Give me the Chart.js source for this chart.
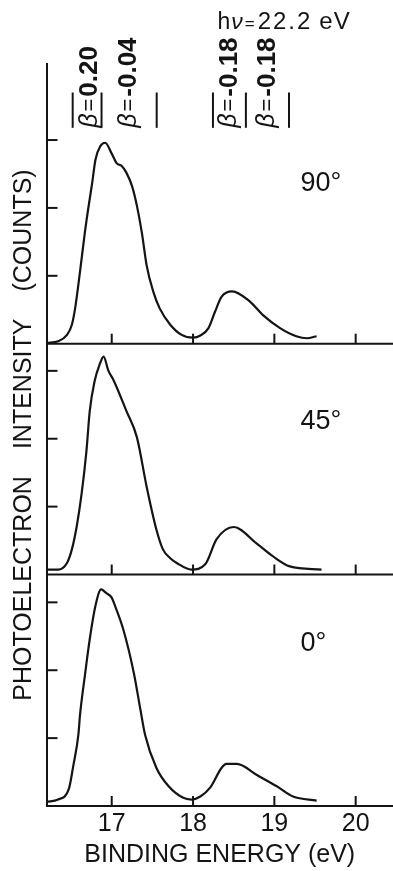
<!DOCTYPE html>
<html>
<head>
<meta charset="utf-8">
<title>Photoelectron spectra, hν = 22.2 eV</title>
<script src="https://cdn.jsdelivr.net/npm/chart.js@4.4.1/dist/chart.umd.min.js"></script>
<style>
  html, body { margin: 0; padding: 0; background: #fff; }
  #wrap { position: relative; width: 393px; height: 871px; }
  canvas { display: block; }
</style>
</head>
<body>
<div id="wrap"><canvas id="spectra" width="393" height="871"></canvas></div>
<script>
// ---- spectra: binding energy (eV) and intensity, one pair per emission angle ----
const energy90 = [16.20, 16.34, 16.45, 16.51, 16.55, 16.61, 16.67, 16.71, 16.76, 16.80, 16.86, 16.92,
                  17.00, 17.06, 17.12, 17.18, 17.25, 17.31, 17.37, 17.43, 17.51, 17.59, 17.72, 17.86,
                  18.00, 18.09, 18.19, 18.27, 18.35, 18.48, 18.70, 18.86, 19.07, 19.27, 19.40, 19.52];
const counts90 = [0.01, 0.035, 0.13, 0.28, 0.52, 1.06, 1.64, 1.98, 2.37, 2.71, 2.91, 2.96,
                  2.80, 2.66, 2.62, 2.52, 2.32, 2.03, 1.64, 1.15, 0.77, 0.52, 0.28, 0.13,
                  0.09, 0.12, 0.23, 0.47, 0.69, 0.77, 0.62, 0.42, 0.23, 0.11, 0.08, 0.11];

const energy45 = [16.20, 16.34, 16.45, 16.51, 16.57, 16.63, 16.69, 16.73, 16.79, 16.85, 16.90, 16.96,
                  17.02, 17.18, 17.31, 17.43, 17.55, 17.63, 17.72, 17.80, 17.98, 18.15, 18.29, 18.50,
                  18.78, 18.98, 19.19, 19.58];
const counts45 = [0.073, 0.073, 0.17, 0.37, 0.71, 1.19, 1.83, 2.41, 2.85, 3.09, 3.21, 3.00,
                  2.87, 2.41, 2.02, 1.29, 0.66, 0.37, 0.24, 0.17, 0.073, 0.15, 0.52, 0.70,
                  0.46, 0.27, 0.12, 0.073];

const energy0 = [16.20, 16.34, 16.47, 16.53, 16.59, 16.61, 16.67, 16.73, 16.80, 16.87, 16.93, 17.00,
                 17.04, 17.14, 17.27, 17.35, 17.41, 17.55, 17.70, 17.88, 17.98, 18.09, 18.21, 18.35,
                 18.41, 18.54, 18.78, 19.03, 19.23, 19.52];
const counts0 = [0.06, 0.095, 0.24, 0.61, 1.05, 1.34, 1.92, 2.46, 2.95, 3.19, 3.14, 3.07,
                 2.95, 2.61, 1.97, 1.44, 1.05, 0.56, 0.29, 0.12, 0.095, 0.14, 0.27, 0.56,
                 0.62, 0.62, 0.46, 0.29, 0.14, 0.08];

const angleNames = ['90°', '45°', '0°'];

// ---- axes ----
const energyTicks = [17, 18, 19, 20];
const intensityTicks = [1, 2, 3];
const energyRange = [16.198, 20.459];
const panelHeights = [4.12, 3.40, 3.41];          // top, middle, bottom (intensity units)
const xTitle = 'BINDING ENERGY (eV)';
const yTitleWords = ['PHOTOELECTRON', 'INTENSITY', '(COUNTS)'];

// ---- asymmetry parameters and the energy windows they were taken over ----
const betaWindows = [[16.52, 16.875], [16.875, 17.553], [18.245, 18.65], [18.65, 19.18]];
const betaValues = ['0.20', '-0.04', '-0.18', '-0.18'];
const photonEnergy = ['22.2', 'eV'];

const ink = '#141414';
const FONT = '"Liberation Sans", Arial, Helvetica, sans-serif';
const panelIds = ['yTop', 'yMid', 'yBot'];

const toPoints = (xs, ys) => xs.map((e, i) => ({ x: e, y: ys[i] }));

function panelScale(max, order) {
  return {
    type: 'linear',
    position: 'left',
    stack: 'panels',
    stackWeight: max,
    weight: order,
    min: 0,
    max: max,
    grid: { display: false, drawTicks: false },
    border: { display: true, color: ink, width: 2 },
    ticks: { display: false }
  };
}

function strokeLine(ctx, x1, y1, x2, y2) {
  ctx.beginPath();
  ctx.moveTo(x1, y1);
  ctx.lineTo(x2, y2);
  ctx.stroke();
}

// writes a run of differently styled text pieces from the current origin
function drawRun(ctx, pieces) {
  let pos = 0;
  pieces.forEach(p => {
    pos += p.before || 0;
    ctx.font = p.font;
    if ('letterSpacing' in ctx) ctx.letterSpacing = p.spacing || '0px';
    ctx.fillText(p.text, pos, 0);
    pos += ctx.measureText(p.text).width;
  });
  if ('letterSpacing' in ctx) ctx.letterSpacing = '0px';
}

const frame = {
  id: 'frame',
  afterDraw(chart) {
    const { ctx, chartArea: a, scales } = chart;
    const xs = scales.x;
    ctx.save();
    ctx.strokeStyle = ink;
    ctx.fillStyle = ink;
    ctx.lineWidth = 2;

    // panel baselines, inward ticks on both axes
    panelIds.forEach(id => {
      const s = scales[id];
      const y0 = s.getPixelForValue(0);
      strokeLine(ctx, a.left, y0, a.right, y0);
      energyTicks.forEach(v => {
        const px = xs.getPixelForValue(v);
        strokeLine(ctx, px, y0, px, y0 - 10);
      });
      intensityTicks.forEach(v => {
        const py = s.getPixelForValue(v);
        strokeLine(ctx, a.left, py, a.left + 11, py);
      });
    });

    // emission angle of each panel
    ctx.font = '27px ' + FONT;
    ctx.textAlign = 'left';
    ctx.textBaseline = 'middle';
    const angleLevels = [2.36, 2.26, 2.40];
    chart.data.datasets.forEach((ds, i) => {
      const s = scales[ds.yAxisID];
      ctx.fillText(ds.label, xs.getPixelForValue(19.32), s.getPixelForValue(angleLevels[i]));
    });

    // vertical axis title
    ctx.save();
    ctx.font = '25px ' + FONT;
    ctx.textBaseline = 'middle';
    ctx.textAlign = 'left';
    const wordGap = 27;
    const widths = yTitleWords.map(w => ctx.measureText(w).width);
    const total = widths.reduce((p, c) => p + c, 0) + wordGap * (yTitleWords.length - 1);
    ctx.translate(24, (a.top + a.bottom) / 2 + total / 2);
    ctx.rotate(-Math.PI / 2);
    let pos = 0;
    yTitleWords.forEach((w, i) => { ctx.fillText(w, pos, 0); pos += widths[i] + wordGap; });
    ctx.restore();

    // energy windows and asymmetry parameters
    const top = scales.yTop;
    const barLow = top.getPixelForValue(3.18);
    const barHigh = top.getPixelForValue(3.70);
    const edges = [...new Set(betaWindows.flat())];
    edges.forEach(e => {
      const px = xs.getPixelForValue(e);
      strokeLine(ctx, px, barLow, px, barHigh);
    });
    betaWindows.forEach((w, i) => {
      const cx = (xs.getPixelForValue(w[0]) + xs.getPixelForValue(w[1])) / 2 + (i === 0 ? 3 : 0);
      ctx.save();
      ctx.translate(cx, barLow);
      ctx.rotate(-Math.PI / 2);
      ctx.textAlign = 'left';
      ctx.textBaseline = 'middle';
      drawRun(ctx, [
        { text: 'β', font: 'italic 25px ' + FONT },
        { text: '=', font: '22px ' + FONT, before: 2 },
        { text: betaValues[i], font: 'bold 26px ' + FONT, before: 2 }
      ]);
      ctx.restore();
    });

    // photon energy
    ctx.save();
    ctx.textAlign = 'left';
    ctx.textBaseline = 'alphabetic';
    ctx.translate(xs.getPixelForValue(18.30), top.getPixelForValue(4.64));
    drawRun(ctx, [
      { text: 'h', font: '23px ' + FONT },
      { text: 'ν', font: 'italic 23px ' + FONT, before: 1 },
      { text: '=', font: '17px ' + FONT, before: 2 },
      { text: photonEnergy[0], font: '24px ' + FONT, before: 3, spacing: '2px' },
      { text: photonEnergy[1], font: '24px ' + FONT, before: 7, spacing: '1px' }
    ]);
    ctx.restore();
    ctx.restore();
  }
};

new Chart(document.getElementById('spectra'), {
  type: 'line',
  data: {
    datasets: [
      { label: angleNames[0], data: toPoints(energy90, counts90), yAxisID: 'yTop' },
      { label: angleNames[1], data: toPoints(energy45, counts45), yAxisID: 'yMid' },
      { label: angleNames[2], data: toPoints(energy0, counts0), yAxisID: 'yBot' }
    ]
  },
  options: {
    responsive: false,
    animation: false,
    devicePixelRatio: 1,
    layout: { padding: { left: 46.5, right: 0, top: 64, bottom: 3 } },
    plugins: { legend: { display: false }, tooltip: { enabled: false } },
    elements: {
      point: { radius: 0, hoverRadius: 0 },
      line: { borderColor: ink, borderWidth: 2.2, cubicInterpolationMode: 'monotone', fill: false }
    },
    scales: {
      x: {
        type: 'linear',
        min: energyRange[0],
        max: energyRange[1],
        afterBuildTicks: s => { s.ticks = energyTicks.map(v => ({ value: v })); },
        grid: { display: false, drawTicks: false },
        border: { display: false },
        ticks: {
          color: ink,
          padding: 6,
          autoSkip: false,
          maxRotation: 0,
          font: { family: FONT, size: 25, lineHeight: 1 },
          callback: v => String(v)
        },
        title: {
          display: true,
          text: xTitle,
          color: ink,
          padding: { top: 0, bottom: 0 },
          font: { family: FONT, size: 25, lineHeight: 1 }
        }
      },
      yBot: panelScale(panelHeights[2], 1),
      yMid: panelScale(panelHeights[1], 2),
      yTop: panelScale(panelHeights[0], 3)
    }
  },
  plugins: [frame]
});
</script>
</body>
</html>
